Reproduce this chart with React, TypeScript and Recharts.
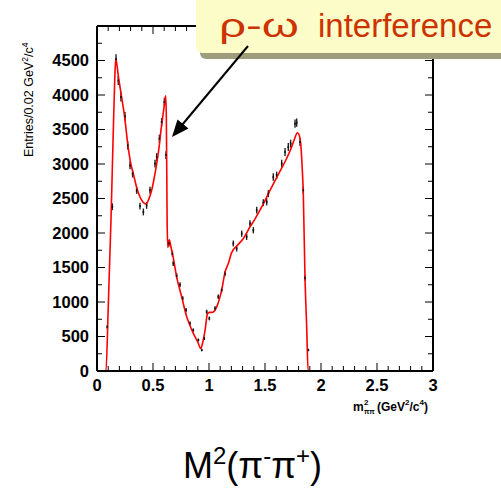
import React from "react";
import { ComposedChart, Line, Scatter, XAxis, YAxis, ErrorBar } from "recharts";

// fit curve (red)
const fitX = [0, 0.08, 0.1, 0.125, 0.145, 0.158, 0.167, 0.175, 0.19, 0.22, 0.25, 0.274, 0.3, 0.324, 0.354, 0.384, 0.41, 0.437, 0.46, 0.488, 0.51, 0.533, 0.555, 0.571, 0.59, 0.605, 0.613, 0.619, 0.626, 0.632, 0.645, 0.66, 0.68, 0.711, 0.756, 0.801, 0.83, 0.86, 0.9, 0.926, 0.945, 0.964, 0.985, 1.0, 1.03, 1.069, 1.113, 1.143, 1.173, 1.202, 1.247, 1.307, 1.366, 1.41, 1.455, 1.5, 1.545, 1.619, 1.693, 1.738, 1.765, 1.789, 1.805, 1.819, 1.832, 1.842, 1.857, 1.872, 1.885, 2.0];
const fitY = [0, 0, 900, 2200, 3450, 4200, 4520, 4470, 4280, 3970, 3640, 3295, 3020, 2861, 2660, 2522, 2450, 2420, 2480, 2619, 2790, 3006, 3250, 3487, 3720, 3900, 3990, 3700, 2200, 1790, 1900, 1800, 1650, 1365, 1075, 786, 660, 545, 420, 328, 420, 580, 820, 850, 850, 930, 1172, 1430, 1560, 1715, 1810, 1920, 2088, 2200, 2330, 2470, 2619, 2850, 3080, 3246, 3370, 3453, 3420, 3295, 2950, 2571, 1365, 650, 0, 0];

// measured points (black)
const pointX = [0.092, 0.137, 0.17, 0.19, 0.214, 0.25, 0.274, 0.295, 0.318, 0.354, 0.384, 0.414, 0.443, 0.473, 0.518, 0.533, 0.557, 0.577, 0.601, 0.616, 0.643, 0.673, 0.681, 0.711, 0.741, 0.765, 0.795, 0.83, 0.86, 0.905, 0.935, 0.958, 0.979, 1.003, 1.054, 1.083, 1.113, 1.143, 1.217, 1.247, 1.292, 1.336, 1.366, 1.396, 1.426, 1.485, 1.515, 1.53, 1.574, 1.604, 1.649, 1.679, 1.708, 1.729, 1.768, 1.783, 1.813, 1.842, 1.857, 1.887];
const pointY = [640, 2380, 4520, 4210, 3970, 3690, 3270, 2980, 2860, 2620, 2390, 2305, 2400, 2620, 3006, 3100, 3367, 3607, 3897, 3130, 1850, 1700, 1560, 1380, 1250, 1052, 883, 690, 593, 449, 304, 473, 858, 762, 907, 1075, 1172, 1410, 1848, 1775, 1992, 1944, 2137, 2040, 2330, 2440, 2450, 2571, 2812, 2836, 3006, 3174, 3246, 3295, 3584, 3600, 3318, 2619, 1350, 304];
const pointErr = [30, 50, 70, 65, 65, 62, 60, 56, 55, 52, 50, 50, 50, 52, 56, 56, 58, 60, 62, 56, 44, 42, 40, 38, 36, 33, 30, 27, 25, 22, 18, 22, 30, 28, 30, 33, 35, 38, 43, 43, 45, 45, 47, 46, 49, 50, 50, 51, 54, 54, 56, 57, 58, 58, 60, 60, 58, 52, 37, 18];

const xTicks = [0, 0.1, 0.2, 0.3, 0.4, 0.5, 0.6, 0.7, 0.8, 0.9, 1, 1.1, 1.2, 1.3, 1.4, 1.5, 1.6, 1.7, 1.8, 1.9, 2, 2.1, 2.2, 2.3, 2.4, 2.5, 2.6, 2.7, 2.8, 2.9, 3];
const yTicks = [0, 250, 500, 750, 1000, 1250, 1500, 1750, 2000, 2250, 2500, 2750, 3000, 3250, 3500, 3750, 4000, 4250, 4500, 4750, 5000];

const fitData = fitX.map((x, i) => ({ x, y: fitY[i] }));
const pointData = pointX.map((x, i) => ({ x, y: pointY[i], err: pointErr[i] }));

const FONT = '"Liberation Sans", Arial, Helvetica, sans-serif';
const MAJOR = 8;
const MINOR = 5;

const isMajorX = (v: number) => Math.abs(v * 2 - Math.round(v * 2)) < 1e-6;
const isMajorY = (v: number) => v % 500 === 0;
const fmtX = (v: number) => String(+v.toFixed(1));

const tickText = { fontFamily: FONT, fontWeight: 700, fontSize: 16.5, fill: "#000" };

function BottomTick({ x, y, payload }: any) {
  const v = payload.value;
  const major = isMajorX(v);
  const y0 = y - 8;
  return (
    <g>
      <line x1={x} x2={x} y1={y0} y2={y0 - (major ? MAJOR : MINOR)} stroke="#000" />
      {major && (
        <text x={x} y={y} dy="0.72em" textAnchor="middle" {...tickText}>
          {fmtX(v)}
        </text>
      )}
    </g>
  );
}

function LeftTick({ x, y, payload }: any) {
  const v = payload.value;
  const major = isMajorY(v);
  const x0 = x + 8;
  return (
    <g>
      <line x1={x0} x2={x0 + (major ? MAJOR : MINOR)} y1={y} y2={y} stroke="#000" />
      {major && v < 5000 && (
        <text x={x} y={y} dy="0.36em" textAnchor="end" {...tickText}>
          {v}
        </text>
      )}
    </g>
  );
}

function TopTick({ x, y, payload }: any) {
  const len = isMajorX(payload.value) ? MAJOR : MINOR;
  return <line x1={x} x2={x} y1={y} y2={y + len} stroke="#000" />;
}

function RightTick({ x, y, payload }: any) {
  const len = isMajorY(payload.value) ? MAJOR : MINOR;
  return <line x1={x} x2={x - len} y1={y} y2={y} stroke="#000" />;
}

const PointMark = (props: any) => (
  <rect x={props.cx - 0.8} y={props.cy - 1} width={1.6} height={2} fill="#111" />
);

export default function App() {
  const axisLine = { stroke: "#000", strokeWidth: 2 };
  return (
    <div style={{ position: "absolute", left: 0, top: 0, width: 501, height: 491, background: "#fff" }}>
      <ComposedChart width={501} height={491} margin={{ top: 25, right: 67, bottom: 90, left: 37 }}>
        <XAxis xAxisId="b" type="number" dataKey="x" domain={[0, 3]} ticks={xTicks} interval={0}
          tickSize={0} tickMargin={8} tickLine={false} axisLine={axisLine} tick={<BottomTick />} height={30} />
        <XAxis xAxisId="t" orientation="top" type="number" dataKey="x" domain={[0, 3]} ticks={xTicks} interval={0}
          tickSize={0} tickMargin={0} tickLine={false} axisLine={axisLine} tick={<TopTick />} height={1} />
        <YAxis yAxisId="l" type="number" domain={[0, 5000]} ticks={yTicks} interval={0}
          tickSize={0} tickMargin={8} tickLine={false} axisLine={axisLine} tick={<LeftTick />} width={60} />
        <YAxis yAxisId="r" orientation="right" type="number" domain={[0, 5000]} ticks={yTicks} interval={0}
          tickSize={0} tickMargin={0} tickLine={false} axisLine={axisLine} tick={<RightTick />} width={1} />
        <Scatter xAxisId="t" yAxisId="r" data={pointData} dataKey="y" shape={PointMark} isAnimationActive={false}>
          <ErrorBar dataKey="err" direction="y" width={0} stroke="#222" strokeWidth={1.4} />
        </Scatter>
        <Line xAxisId="b" yAxisId="l" data={fitData} dataKey="y" type="monotone" stroke="#ff0000"
          strokeWidth={1.6} dot={false} isAnimationActive={false} />
      </ComposedChart>

      <svg width={501} height={491} style={{ position: "absolute", left: 0, top: 0, pointerEvents: "none" }}>
        {/* y axis title */}
        <g transform="translate(33,157) rotate(-90)">
          <text x={0} y={0} fontFamily={FONT} fontSize={12.5} fill="#000">
            Entries/0.02 GeV<tspan fontSize={8.5} dy={-5}>2</tspan>
            <tspan dy={5}>/c</tspan>
            <tspan fontSize={8.5} dy={-5}>4</tspan>
          </text>
        </g>

        {/* x axis title */}
        <text fontFamily={FONT} fontWeight={700} fontSize={12} fill="#000">
          <tspan x={353} y={411}>m</tspan>
          <tspan x={364} y={405} fontSize={8}>2</tspan>
          <tspan x={364} y={414} fontSize={7}>ππ</tspan>
          <tspan x={377} y={411}>(GeV</tspan>
          <tspan y={405} fontSize={8}>2</tspan>
          <tspan y={411}>/c</tspan>
          <tspan y={405} fontSize={8}>4</tspan>
          <tspan y={411}>)</tspan>
        </text>

        {/* callout */}
        <rect x={200} y={-10} width={320} height={69} rx={6} fill="#9d9d7c" />
        <rect x={196} y={-10} width={320} height={63} rx={6} fill="#fcfcc8" />
        <text y={37} fontFamily={FONT} fontSize={33} fill="#cc3300">
          <tspan x={219} textLength={80} lengthAdjust="spacingAndGlyphs">ρ-ω</tspan>
          <tspan x={318}>interference</tspan>
        </text>
        <line x1={248} y1={46} x2={182} y2={125} stroke="#000" strokeWidth={2} />
        <polygon points="172,137 188.5,128.5 177.5,119.5" fill="#000" />

        {/* bottom label */}
        <text x={183} y={478} fontFamily={FONT} fontSize={36} fill="#000">
          M<tspan fontSize={24} dy={-14}>2</tspan>
          <tspan fontSize={36} dy={14}>(π</tspan>
          <tspan fontSize={24} dy={-14}>-</tspan>
          <tspan fontSize={36} dy={14}>π</tspan>
          <tspan fontSize={24} dy={-14}>+</tspan>
          <tspan fontSize={36} dy={14}>)</tspan>
        </text>
      </svg>
    </div>
  );
}
